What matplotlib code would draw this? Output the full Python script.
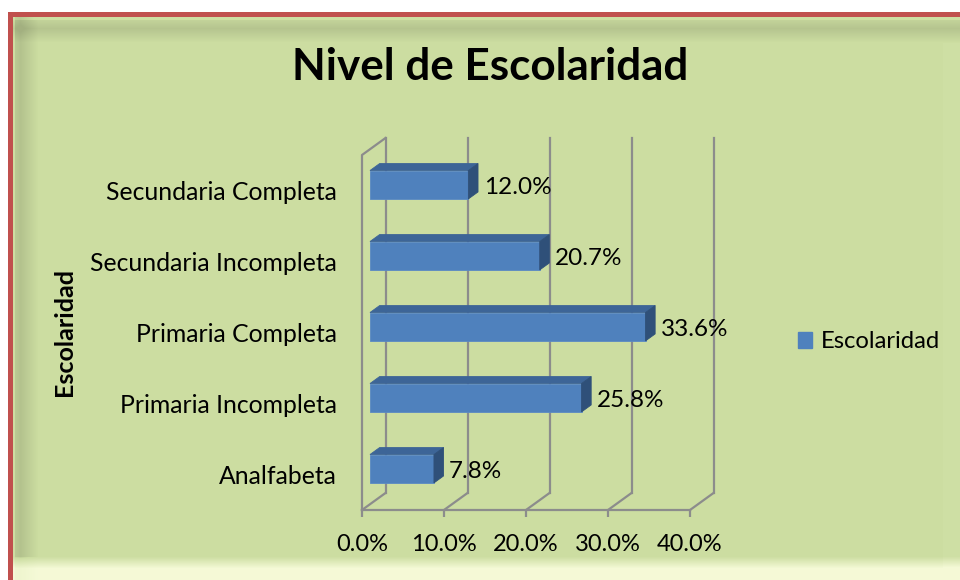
import numpy as np
import matplotlib
matplotlib.use('Agg')
import matplotlib.pyplot as plt
from matplotlib.patches import Polygon, Patch

# Data
categories = ['Analfabeta', 'Primaria Incompleta', 'Primaria Completa',
              'Secundaria Incompleta', 'Secundaria Completa']
values = [7.8, 25.8, 33.6, 20.7, 12.0]
ticks = [0, 10, 20, 30, 40]
tick_labels = ['0.0%', '10.0%', '20.0%', '30.0%', '40.0%']

plt.rcParams['font.family'] = ['Lato', 'DejaVu Sans']

W, H = 960, 580
fig = plt.figure(figsize=(W / 100, H / 100), dpi=100)

# Background: white page, red border, green fill with a soft bevel.
bg = np.ones((H, W, 3))
yy, xx = np.mgrid[0:H, 0:W]
red = np.array([192, 80, 77]) / 255
green = np.array([204, 221, 161]) / 255
bg[(xx >= 8) & (yy >= 12)] = red
inner = (xx >= 13) & (yy >= 17)
fill = np.broadcast_to(green, (H, W, 3)).copy()
dt = yy - 17
dl = xx - 13
shade = np.zeros((H, W))
shade += np.where((dt >= 3) & (dt < 26), -0.11 * np.clip(1 - np.abs(dt - 11) / 14, 0, 1), 0)
shade += np.where((dl >= 2) & (dl < 26), -0.12 * np.clip(1 - np.abs(dl - 7) / 18, 0, 1), 0)
shade += np.where(dt < 3, 0.03, 0) + np.where(dl < 2, 0.03, 0)
db = yy - 556
shade += np.where(db > 0, 0.85 * np.clip(db / 12, 0, 1), 0)
shade += np.where((xx >= 943) & (dt >= 26), 0.06, 0)
shade = np.clip(shade, -0.2, 0.85)
white = np.array([0.99, 1.0, 0.88])
fill = np.where(shade[..., None] >= 0,
                fill + (white - fill) * shade[..., None],
                fill * (1 + shade[..., None]))
bg[inner] = fill[inner]
bax = fig.add_axes([0, 0, 1, 1], zorder=-10)
bax.imshow(bg, aspect='auto', interpolation='nearest')
bax.axis('off')

# Plot area: front plane in data coordinates
ax = fig.add_axes([362 / W, 70 / H, 328 / W, 355 / H])
ax.set_xlim(0, 40)
ax.set_ylim(-0.5, 4.5)
ax.patch.set_alpha(0)
for s in ax.spines.values():
    s.set_visible(False)

DX = 40 * 23.5 / 328   # depth offset in x units
DY = 5 * 17 / 355      # depth offset in y units
grid = '#8c8c8c'
lw = 1.6
y0, y1 = -0.5, 4.5
for t in ticks:
    ax.plot([t + DX, t + DX], [y0 + DY, y1 + DY], color=grid, lw=lw, clip_on=False, zorder=1)
    ax.plot([t, t + DX], [y0, y0 + DY], color=grid, lw=lw, clip_on=False, zorder=1)
ax.plot([0, 0, DX], [y0, y1, y1 + DY], color=grid, lw=lw, clip_on=False, zorder=1)
ax.plot([0, 40], [y0, y0], color=grid, lw=lw, clip_on=False, zorder=1)

# Bars with a fake 3D look
f1, f2 = 0.34, 0.75
h = 0.4
pos = np.arange(len(categories))
ax.barh(pos + f1 * DY, values, height=h, left=f1 * DX, color='#4F81BD',
        edgecolor='#5a8ac4', lw=0.6, zorder=3, label='Escolaridad')
for i, v in zip(pos, values):
    yb = i + f1 * DY - h / 2
    yt = i + f1 * DY + h / 2
    top = [(f1 * DX, yt), (v + f1 * DX, yt),
           (v + f2 * DX, yt + (f2 - f1) * DY), (f2 * DX, yt + (f2 - f1) * DY)]
    side = [(v + f1 * DX, yb), (v + f1 * DX, yt),
            (v + f2 * DX, yt + (f2 - f1) * DY), (v + f2 * DX, yb + (f2 - f1) * DY)]
    ax.add_patch(Polygon(top, closed=True, fc='#3D6597', ec='#3D6597', lw=0.6, zorder=3, clip_on=False))
    ax.add_patch(Polygon(side, closed=True, fc='#2F5079', ec='#2F5079', lw=0.6, zorder=3, clip_on=False))
    ax.annotate(f'{v:.1f}%', (v + f1 * DX, i + f1 * DY), xytext=(11, -2),
                textcoords='offset points', ha='left', va='center',
                fontsize=17.5, zorder=4, annotation_clip=False)

ax.set_xticks(ticks)
ax.set_xticklabels(tick_labels, fontsize=17)
ax.tick_params(axis='x', length=5, width=lw, color=grid, pad=12)
ax.set_yticks(pos)
ax.set_yticklabels(categories, fontsize=17.8)
ax.tick_params(axis='y', length=0, pad=18)

fig.text(490 / W, 1 - 80 / H, 'Nivel de Escolaridad', ha='center', va='baseline',
         fontsize=31.7, fontweight='bold')
fig.text(65 / W, 1 - 332 / H, 'Escolaridad', ha='center', va='center',
         rotation=90, fontsize=18, fontweight='bold')

handle = Patch(facecolor='#4F81BD', edgecolor='#4F81BD')
fig.legend([handle], ['Escolaridad'], loc='center left',
           bbox_to_anchor=(798 / W, 1 - 342 / H), frameon=False, fontsize=17.2,
           borderpad=0, borderaxespad=0,
           handlelength=0.6, handleheight=0.6, handletextpad=0.36)

fig.savefig('out.png', dpi=100)
